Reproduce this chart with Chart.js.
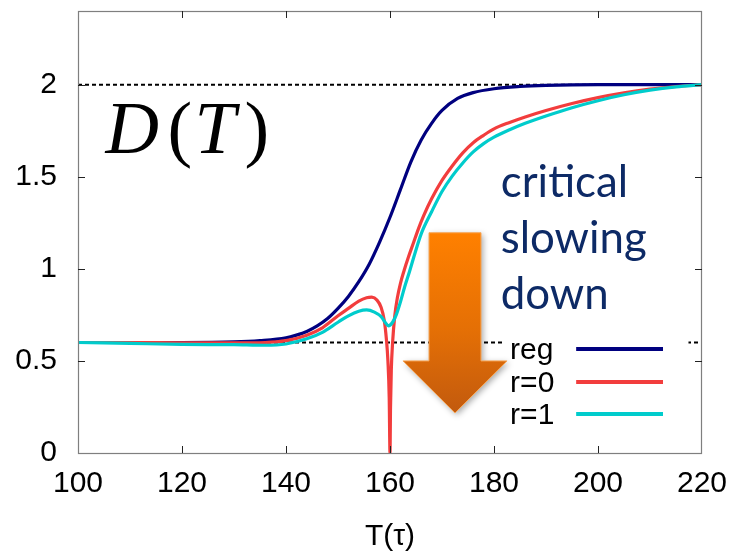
<!DOCTYPE html>
<html>
<head>
<meta charset="utf-8">
<script src="https://cdn.jsdelivr.net/npm/chart.js@4.4.1/dist/chart.umd.min.js"></script>
<style>
  html, body { margin: 0; padding: 0; background: #ffffff; }
  #wrap { width: 736px; height: 555px; }
</style>
</head>
<body>
<div id="wrap"><canvas id="c" width="736" height="555"></canvas></div>
<script>
// ---------------- data ----------------
const seriesNames = ['reg', 'r=0', 'r=1'];

const T_reg = [100,110,120,130,135,140,142,144,146,148,150,152,154,156,158,160,162,164,166,168,170,173,176,180,185,190,200,210,220];
const D_reg = [0.60,0.60,0.60,0.603,0.61,0.625,0.64,0.66,0.69,0.73,0.785,0.85,0.93,1.025,1.145,1.28,1.43,1.58,1.70,1.79,1.86,1.925,1.957,1.978,1.99,1.996,2.0,2.0,2.0];

const T_r0 = [100,110,120,130,136,140,144,147,150,152,154,155.5,156.5,157.5,158.3,158.9,159.3,159.6,159.85,160,160.1,160.25,160.5,160.9,161.4,162,162.7,163.5,164.5,165.5,166.5,168,170,172,174,176,178,180,183,186,190,195,200,205,210,215,220];
const D_r0 = [0.60,0.60,0.598,0.598,0.60,0.61,0.64,0.68,0.745,0.785,0.825,0.843,0.846,0.83,0.79,0.72,0.62,0.50,0.30,0.0,0.25,0.45,0.60,0.74,0.84,0.92,0.99,1.06,1.14,1.22,1.29,1.38,1.48,1.56,1.63,1.685,1.725,1.76,1.795,1.825,1.86,1.898,1.93,1.956,1.976,1.99,2.0];

const T_r1 = [100,110,120,130,136,140,144,147,150,152,154,155.5,157,158.3,159.2,159.7,160.5,161.2,161.9,162.8,163.8,164.8,166,168,170,172,174,176,178,180,183,186,190,195,200,205,210,215,220];
const D_r1 = [0.60,0.595,0.59,0.588,0.585,0.592,0.62,0.655,0.71,0.745,0.77,0.777,0.765,0.74,0.705,0.69,0.71,0.75,0.81,0.90,0.99,1.085,1.19,1.31,1.42,1.505,1.575,1.635,1.68,1.715,1.755,1.79,1.83,1.875,1.913,1.945,1.97,1.988,2.0];

const T_ref = [100, 220];
const D_upperRef = [2, 2];
const D_lowerRef = [0.6, 0.6];

const xTicks = [100, 120, 140, 160, 180, 200, 220];
const yTicks = [0, 0.5, 1, 1.5, 2];
const xTitle = 'T(\u03C4)';
const noteLines = ['critical', 'slowing', 'down'];

// ---------------- helpers ----------------
const pts = (xs, ys) => xs.map((x, i) => ({ x: x, y: ys[i] }));
const COL_REG = '#00007f';
const COL_R0 = '#f23d3d';
const COL_R1 = '#00cccc';
const TICK_FONT = '"Liberation Sans", Arial, sans-serif';

const decorPlugin = {
  id: 'decor',
  afterDatasetsDraw(chart) {
    const ctx = chart.ctx;
    const xs = chart.scales.x, ys = chart.scales.y;
    const a = chart.chartArea;
    const X = v => xs.getPixelForValue(v);
    const Y = v => ys.getPixelForValue(v);
    ctx.save();

    // border
    ctx.strokeStyle = '#7f7f7f';
    ctx.lineWidth = 1.2;
    ctx.strokeRect(a.left + 0.5, a.top + 0.5, a.right - a.left - 1, a.bottom - a.top);

    // inward ticks (mirrored)
    ctx.strokeStyle = '#222';
    ctx.lineWidth = 1;
    const tl = 7;
    xTicks.forEach(v => {
      const px = Math.round(X(v)) + 0.5;
      if (v === xTicks[0] || v === xTicks[xTicks.length - 1]) return;
      ctx.beginPath();
      ctx.moveTo(px, a.bottom); ctx.lineTo(px, a.bottom - tl);
      ctx.moveTo(px, a.top); ctx.lineTo(px, a.top + tl);
      ctx.stroke();
    });
    yTicks.forEach(v => {
      const py = Math.round(Y(v)) + 0.5;
      if (v === 0) return;
      ctx.beginPath();
      ctx.moveTo(a.left, py); ctx.lineTo(a.left + tl, py);
      ctx.moveTo(a.right, py); ctx.lineTo(a.right - tl, py);
      ctx.stroke();
    });

    // legend box (white, hides the dotted line)
    ctx.fillStyle = '#ffffff';
    ctx.fillRect(X(182.0), Y(0.65), X(217.4) - X(182.0), Y(0.12) - Y(0.65));
    const legendRows = [0.565, 0.386, 0.212];
    const legendCols = [COL_REG, COL_R0, COL_R1];
    ctx.font = '30px ' + TICK_FONT;
    ctx.textAlign = 'left';
    ctx.textBaseline = 'alphabetic';
    seriesNames.forEach((n, i) => {
      const py = Y(legendRows[i]);
      ctx.fillStyle = '#000';
      ctx.fillText(n, X(183.1), py + 10.5);
      ctx.strokeStyle = legendCols[i];
      ctx.lineWidth = 4;
      ctx.beginPath();
      ctx.moveTo(X(195.8), py); ctx.lineTo(X(212.5), py);
      ctx.stroke();
    });

    // D(T) label
    ctx.fillStyle = '#000';
    const by = Y(1.63);
    ctx.font = 'italic 74px "Liberation Serif", "Times New Roman", serif';
    ctx.fillText('D', X(105.3), by);
    ctx.fillText('T', X(122.4), by);
    ctx.font = '74px "Liberation Serif", "Times New Roman", serif';
    ctx.fillText('(', X(117.2), by);
    ctx.fillText(')', X(132.0), by);

    // orange arrow
    const poly = [[167.5,1.196],[177.5,1.196],[177.5,0.5],[182.5,0.5],[172.5,0.217],[162.5,0.5],[167.5,0.5]];
    ctx.beginPath();
    poly.forEach((p, i) => { const px = X(p[0]), py = Y(p[1]); if (i) ctx.lineTo(px, py); else ctx.moveTo(px, py); });
    ctx.closePath();
    const g = ctx.createLinearGradient(0, Y(1.196), 0, Y(0.217));
    g.addColorStop(0, '#ff8000');
    g.addColorStop(0.55, '#e46f05');
    g.addColorStop(1, '#c25a0e');
    ctx.save();
    ctx.shadowColor = 'rgba(0,0,0,0.35)';
    ctx.shadowBlur = 6;
    ctx.shadowOffsetX = 2;
    ctx.shadowOffsetY = 2;
    ctx.fillStyle = g;
    ctx.fill();
    ctx.restore();
    ctx.strokeStyle = '#f7a85a';
    ctx.lineWidth = 1;
    ctx.stroke();

    // "critical slowing down" note
    ctx.font = '44px Lato, "Open Sans", sans-serif';
    const w = ctx.measureText('slowing').width;
    const fs = 44 * 146 / w;
    ctx.font = fs.toFixed(1) + 'px Lato, "Open Sans", sans-serif';
    ctx.fillStyle = '#0d2a66';
    const noteY = [1.391, 1.087, 0.783];
    noteLines.forEach((t, i) => ctx.fillText(t, X(181.3), Y(noteY[i])));

    ctx.restore();
  }
};

const lineDs = (label, xs, ysArr, color) => ({
  label: label,
  data: pts(xs, ysArr),
  borderColor: color,
  borderWidth: 3.2,
  pointRadius: 0,
  fill: false,
  cubicInterpolationMode: 'monotone'
});

const chart = new Chart(document.getElementById('c'), {
  type: 'line',
  data: {
    datasets: [
      lineDs(seriesNames[2], T_r1, D_r1, COL_R1),
      lineDs(seriesNames[1], T_r0, D_r0, COL_R0),
      lineDs(seriesNames[0], T_reg, D_reg, COL_REG),
      { label: 'ref2', data: pts(T_ref, D_upperRef), borderColor: '#000', borderWidth: 2, borderDash: [4, 3], pointRadius: 0, fill: false },
      { label: 'ref06', data: pts(T_ref, D_lowerRef), borderColor: '#000', borderWidth: 2, borderDash: [4, 3], pointRadius: 0, fill: false }
    ]
  },
  options: {
    responsive: false,
    animation: false,
    events: [],
    layout: { padding: { top: 11, right: 34, left: 0, bottom: 0 } },
    plugins: { legend: { display: false }, tooltip: { enabled: false } },
    scales: {
      x: {
        type: 'linear',
        min: 100, max: 220,
        border: { display: false },
        grid: { display: false, drawTicks: false },
        afterBuildTicks: s => { s.ticks = xTicks.map(v => ({ value: v })); },
        afterFit: s => { s.height = 102; s.paddingLeft = 0; s.paddingRight = 0; },
        ticks: { color: '#000', padding: 13, maxRotation: 0, font: { family: TICK_FONT, size: 30 }, callback: v => String(v) },
        title: { display: true, text: xTitle, color: '#000', padding: { top: 0, bottom: 0 }, font: { family: TICK_FONT, size: 30 } }
      },
      y: {
        type: 'linear',
        min: 0, max: 2.4,
        border: { display: false },
        grid: { display: false, drawTicks: false },
        afterBuildTicks: s => { s.ticks = yTicks.map(v => ({ value: v })); },
        afterFit: s => { s.width = 78; s.paddingTop = 0; s.paddingBottom = 0; },
        ticks: { color: '#000', padding: 21, font: { family: TICK_FONT, size: 30 }, callback: v => String(v) }
      }
    }
  },
  plugins: [decorPlugin]
});
</script>
</body>
</html>
